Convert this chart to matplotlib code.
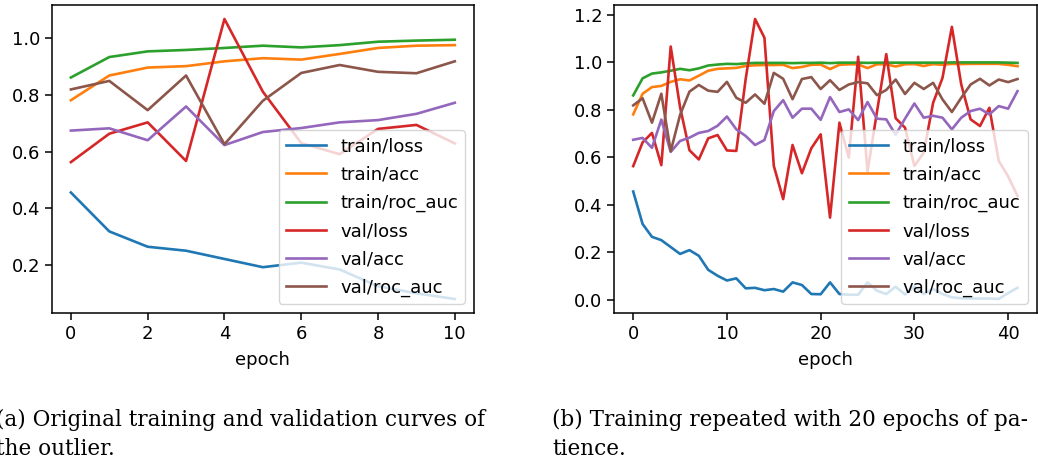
import matplotlib
matplotlib.use("Agg")
import matplotlib.pyplot as plt

# metrics logged per epoch (repeated run, 42 epochs); the original run stopped after epoch 10
train_loss = [0.456, 0.319, 0.265, 0.251, 0.222, 0.193, 0.209, 0.185, 0.126, 0.101,
              0.081, 0.090, 0.048, 0.050, 0.040, 0.045, 0.034, 0.073, 0.062, 0.024,
              0.023, 0.073, 0.024, 0.021, 0.021, 0.073, 0.038, 0.024, 0.055, 0.022,
              0.056, 0.024, 0.045, 0.024, 0.010, 0.006, 0.005, 0.005, 0.005, 0.003,
              0.028, 0.050]
train_acc = [0.781, 0.868, 0.896, 0.901, 0.918, 0.929, 0.924, 0.944, 0.965, 0.973,
             0.975, 0.977, 0.985, 0.988, 0.989, 0.989, 0.990, 0.976, 0.981, 0.990,
             0.991, 0.972, 0.990, 0.992, 0.992, 0.976, 0.992, 0.992, 0.983, 0.992,
             0.993, 0.985, 0.993, 0.990, 0.994, 0.993, 0.994, 0.994, 0.994, 0.994,
             0.990, 0.984]
train_roc_auc = [0.861, 0.933, 0.953, 0.958, 0.965, 0.973, 0.967, 0.975, 0.987, 0.991,
                 0.994, 0.993, 0.996, 0.998, 0.998, 0.998, 0.998, 0.997, 0.998, 0.998,
                 0.999, 0.997, 0.999, 0.999, 0.999, 0.998, 0.999, 0.999, 0.999, 0.999,
                 0.999, 0.999, 0.999, 0.999, 1.000, 1.000, 1.000, 1.000, 1.000, 1.000,
                 0.999, 0.998]
val_loss = [0.563, 0.663, 0.703, 0.567, 1.067, 0.811, 0.630, 0.591, 0.680, 0.694,
            0.629, 0.627, 0.930, 1.183, 1.104, 0.564, 0.424, 0.652, 0.533, 0.638,
            0.697, 0.346, 0.746, 0.599, 1.024, 0.540, 0.790, 1.035, 0.765, 0.725,
            0.564, 0.620, 0.830, 0.935, 1.150, 0.907, 0.760, 0.732, 0.809, 0.585,
            0.520, 0.437]
val_acc = [0.674, 0.682, 0.640, 0.759, 0.623, 0.669, 0.683, 0.703, 0.711, 0.733,
           0.772, 0.718, 0.690, 0.652, 0.673, 0.795, 0.841, 0.767, 0.805, 0.805,
           0.758, 0.854, 0.791, 0.802, 0.757, 0.833, 0.763, 0.760, 0.695, 0.763,
           0.827, 0.767, 0.775, 0.767, 0.718, 0.767, 0.795, 0.805, 0.781, 0.816,
           0.805, 0.879]
val_roc_auc = [0.819, 0.849, 0.746, 0.868, 0.626, 0.779, 0.877, 0.905, 0.881, 0.876,
               0.918, 0.851, 0.830, 0.865, 0.826, 0.956, 0.931, 0.845, 0.930, 0.938,
               0.888, 0.925, 0.884, 0.907, 0.917, 0.912, 0.862, 0.884, 0.928, 0.867,
               0.914, 0.888, 0.914, 0.844, 0.791, 0.851, 0.907, 0.931, 0.903, 0.928,
               0.917, 0.930]

labels = ["train/loss", "train/acc", "train/roc_auc", "val/loss", "val/acc", "val/roc_auc"]
series = [train_loss, train_acc, train_roc_auc, val_loss, val_acc, val_roc_auc]
original_epochs = 11

caption_a = ["(a) Original training and validation curves of", "the outlier."]
caption_b = ["(b) Training repeated with 20 epochs of pa-", "tience."]

plt.rcParams["font.size"] = 13
plt.rcParams["lines.linewidth"] = 1.9
plt.rcParams["axes.linewidth"] = 1.1
plt.rcParams["xtick.major.size"] = 4.8
plt.rcParams["ytick.major.size"] = 4.8
plt.rcParams["xtick.major.width"] = 1.1
plt.rcParams["ytick.major.width"] = 1.1

W, H = 1038, 461
fig = plt.figure(figsize=(W / 100, H / 100), dpi=100)

ax1 = fig.add_axes([51.7 / W, 1 - 313 / H, 422.3 / W, 308 / H])
ax2 = fig.add_axes([614 / W, 1 - 313 / H, 422.7 / W, 308 / H])

for lab, vals in zip(labels, series):
    ax1.plot(range(original_epochs), vals[:original_epochs], label=lab)
    ax2.plot(range(len(vals)), vals, label=lab)

ax1.set_xticks([0, 2, 4, 6, 8, 10])
ax1.set_yticks([0.2, 0.4, 0.6, 0.8, 1.0])
ax2.set_xticks([0, 10, 20, 30, 40])
ax2.set_yticks([0.0, 0.2, 0.4, 0.6, 0.8, 1.0, 1.2])

for ax in (ax1, ax2):
    ax.set_xlabel("epoch", labelpad=6)
    ax.legend(loc="lower right", fontsize=13, handlelength=2.2, labelspacing=0.56)

cap_font = dict(family="DejaVu Serif", fontsize=15.5)
fig.text(-4 / W, 1 - 426 / H, caption_a[0], ha="left", **cap_font)
fig.text(-4 / W, 1 - 455 / H, caption_a[1], ha="left", **cap_font)
fig.text(552 / W, 1 - 426 / H, caption_b[0], ha="left", **cap_font)
fig.text(552 / W, 1 - 455 / H, caption_b[1], ha="left", **cap_font)

fig.savefig("out.png", dpi=100)
